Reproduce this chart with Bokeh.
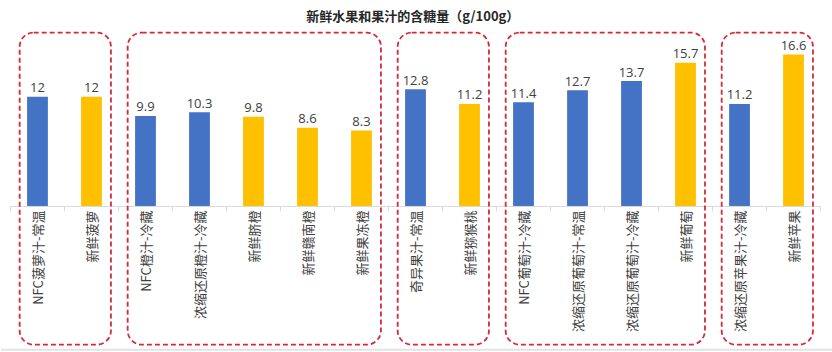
import math
import numpy as np
from bokeh.plotting import figure
from bokeh.models import Range1d, ColumnDataSource
from bokeh.core.properties import value
from bokeh.embed import file_html
from bokeh.resources import INLINE

title_text = "新鲜水果和果汁的含糖量（g/100g）"
categories = ["NFC菠萝汁-常温", "新鲜菠萝", "NFC橙汁-冷藏", "浓缩还原橙汁-冷藏", "新鲜脐橙",
              "新鲜赣南橙", "新鲜果冻橙", "奇异果汁-常温", "新鲜猕猴桃", "NFC葡萄汁-冷藏",
              "浓缩还原葡萄汁-常温", "浓缩还原葡萄汁-冷藏", "新鲜葡萄", "浓缩还原苹果汁-冷藏", "新鲜苹果"]
sugar = [12, 12, 9.9, 10.3, 9.8, 8.6, 8.3, 12.8, 11.2, 11.4, 12.7, 13.7, 15.7, 11.2, 16.6]
kind = ["juice", "fresh", "juice", "juice", "fresh", "fresh", "fresh", "juice", "fresh",
        "juice", "juice", "juice", "fresh", "juice", "fresh"]
group_sizes = [2, 5, 2, 4, 2]

BLUE = "#4472C4"
GOLD = "#FFC000"
TXT = "#404040"
RED = "#D42A3C"

n = len(categories)
xs = np.arange(n) + 0.5
colors = [BLUE if k == "juice" else GOLD for k in kind]
labels = [f"{v:g}" for v in sugar]

p = figure(width=832, height=352, x_range=Range1d(-0.185, 15.222), y_range=Range1d(-15.96, 22.51),
           output_backend="svg", toolbar_location=None, min_border=0)
p.xaxis.visible = False
p.yaxis.visible = False
p.grid.visible = False
p.outline_line_color = None
p.background_fill_color = "white"
p.border_fill_color = "white"

src = ColumnDataSource(dict(x=xs, v=sugar, c=colors, lab=labels, cat=categories))

# bars
p.vbar(x="x", top="v", bottom=0, width=0.385, fill_color="c", line_color=None, source=src)

# value labels
p.text(x="x", y="v", text="lab", text_align="center", text_baseline="alphabetic", y_offset=-9,
       text_font=value("Open Sans"), text_font_size="13px", text_color=TXT, source=src)

# axis baseline and separators
bounds = np.arange(n + 1)
p.segment(x0=[0], y0=[0], x1=[n], y1=[0], line_color="#D9D9D9", line_width=1)
p.segment(x0=bounds, y0=np.zeros(n + 1), x1=bounds, y1=np.full(n + 1, -0.55),
          line_color="#D9D9D9", line_width=1)

# category labels (vertical)
p.text(x="x", y=-0.45, text="cat", angle=math.pi / 2, text_align="right", text_baseline="middle",
       text_font=value("Noto Sans CJK SC"), text_font_size="13px", text_color=TXT, source=src)

# dashed rounded group boxes
ends = np.cumsum(group_sizes)
starts = ends - np.array(group_sizes)
p.quad(left=starts + 0.17, right=ends - 0.14, top=19.0, bottom=-15.1, fill_color=None,
       line_color=RED, line_dash="5 3", line_width=1.8, border_radius=14)

# bottom border line
p.segment(x0=[-0.185], y0=[-15.65], x1=[15.222], y1=[-15.65], line_color="#E3E3E3", line_width=2)

# title
p.text(x=[n / 2 - 0.05], y=[20.87], text=[title_text], text_align="center", text_baseline="middle",
       text_font=value("Noto Sans CJK SC"), text_font_size="13px", text_font_style="bold",
       text_color="#262626")

open("out.html", "w").write(file_html(p, INLINE))
